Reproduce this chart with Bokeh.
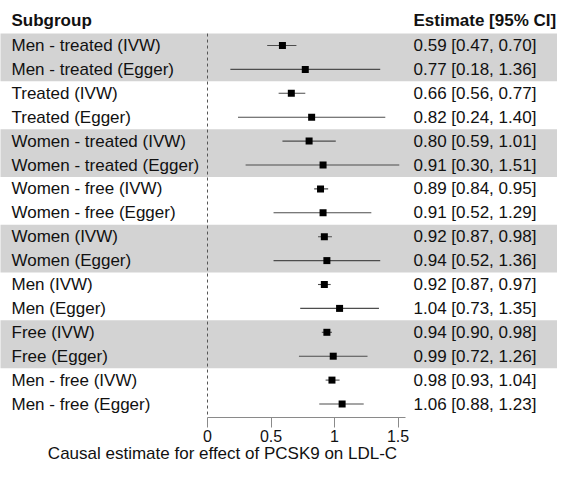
from bokeh.plotting import figure
from bokeh.models import Range1d, LinearAxis, FixedTicker, CustomJSTickFormatter
from bokeh.core.properties import value
from bokeh.embed import file_html
from bokeh.resources import INLINE

# ---------------- data ----------------
subgroups = [
    "Men - treated (IVW)", "Men - treated (Egger)",
    "Treated (IVW)", "Treated (Egger)",
    "Women - treated (IVW)", "Women - treated (Egger)",
    "Women - free (IVW)", "Women - free (Egger)",
    "Women (IVW)", "Women (Egger)",
    "Men (IVW)", "Men (Egger)",
    "Free (IVW)", "Free (Egger)",
    "Men - free (IVW)", "Men - free (Egger)",
]
estimates = [0.59, 0.77, 0.66, 0.82, 0.80, 0.91, 0.89, 0.91,
             0.92, 0.94, 0.92, 1.04, 0.94, 0.99, 0.98, 1.06]
lower = [0.47, 0.18, 0.56, 0.24, 0.59, 0.30, 0.84, 0.52,
         0.87, 0.52, 0.87, 0.73, 0.90, 0.72, 0.93, 0.88]
upper = [0.70, 1.36, 0.77, 1.40, 1.01, 1.51, 0.95, 1.29,
         0.98, 1.36, 0.97, 1.35, 0.98, 1.26, 1.04, 1.23]
tick_values = [0, 0.5, 1, 1.5]
header_left = "Subgroup"
header_right = "Estimate [95% CI]"
x_title = "Causal estimate for effect of PCSK9 on LDL-C"

# ---------------- layout (pixels -> data) ----------------
W, H = 557, 464
PX0 = 207.0          # pixel position of x=0
PXU = 127.0          # pixels per unit of x
PY0 = 45.0           # pixel position of the first row centre
PYU = 23.9           # pixels per row

def xd(px):
    return (px - PX0) / PXU

def yd(py):
    return (py - PY0) / PYU

rows = list(range(len(subgroups)))
AXIS_Y = yd(417.2)
AXIS_END = 1.556

p = figure(width=W, height=H, output_backend="svg", toolbar_location=None,
           x_range=Range1d(xd(0), xd(W)), y_range=Range1d(yd(H), yd(0)),
           x_axis_location=None, y_axis_location=None, min_border=0,
           outline_line_color=None, background_fill_color="white",
           border_fill_color="white")
p.min_border_left = p.min_border_right = p.min_border_top = p.min_border_bottom = 0
p.xgrid.visible = False
p.ygrid.visible = False

# alternating grey bands (pairs of rows)
band_start = [r for r in rows if r % 4 == 0]
p.quad(left=xd(-20), right=xd(W + 20),
       top=[r - 0.5 for r in band_start], bottom=[r + 1.5 for r in band_start],
       fill_color="#d3d3d3", line_color=None)

# reference line at 0
p.segment(x0=[0], y0=[-0.5], x1=[0], y1=[AXIS_Y], line_color="#555555",
          line_width=1, line_dash="3 3")

# confidence intervals and estimates
p.segment(x0=lower, y0=rows, x1=upper, y1=rows, line_color="#4d4d4d", line_width=1.1)
p.scatter(x=estimates, y=rows, marker="square", size=7, fill_color="black", line_color=None)

FONT = value("Liberation Sans")
LABEL_X = xd(11)
EST_X = xd(413)
HEADER_Y = yd(20)

p.text(x=[LABEL_X] * len(rows), y=rows, text=subgroups, text_font=FONT,
       text_font_size="17px", text_baseline="middle", text_align="left", text_color="#111111")
est_text = [f"{e:.2f} [{l:.2f}, {u:.2f}]" for e, l, u in zip(estimates, lower, upper)]
p.text(x=[EST_X] * len(rows), y=rows, text=est_text, text_font=FONT,
       text_font_size="17px", text_baseline="middle", text_align="left", text_color="#111111")
p.text(x=[LABEL_X, EST_X], y=[HEADER_Y, HEADER_Y], text=[header_left, header_right],
       text_font=FONT, text_font_size="17px", text_font_style="bold",
       text_baseline="middle", text_align="left", text_color="#111111")

# x axis
ax = LinearAxis(fixed_location=AXIS_Y, bounds=(0, AXIS_END),
                ticker=FixedTicker(ticks=tick_values),
                formatter=CustomJSTickFormatter(code="return String(tick)"))
ax.axis_line_color = "#8a8a8a"
ax.major_tick_line_color = "#8a8a8a"
ax.major_tick_out = 10
ax.major_tick_in = 0
ax.minor_tick_out = 0
ax.minor_tick_in = 0
ax.major_label_standoff = 2
ax.major_label_text_font = "Liberation Sans"
ax.major_label_text_font_size = "16px"
ax.major_label_text_color = "#111111"
p.add_layout(ax, "below")

p.text(x=[xd(222)], y=[yd(453)], text=[x_title], text_font=FONT,
       text_font_size="17px", text_baseline="middle", text_align="center", text_color="#111111")

open("out.html", "w").write(file_html(p, INLINE))
